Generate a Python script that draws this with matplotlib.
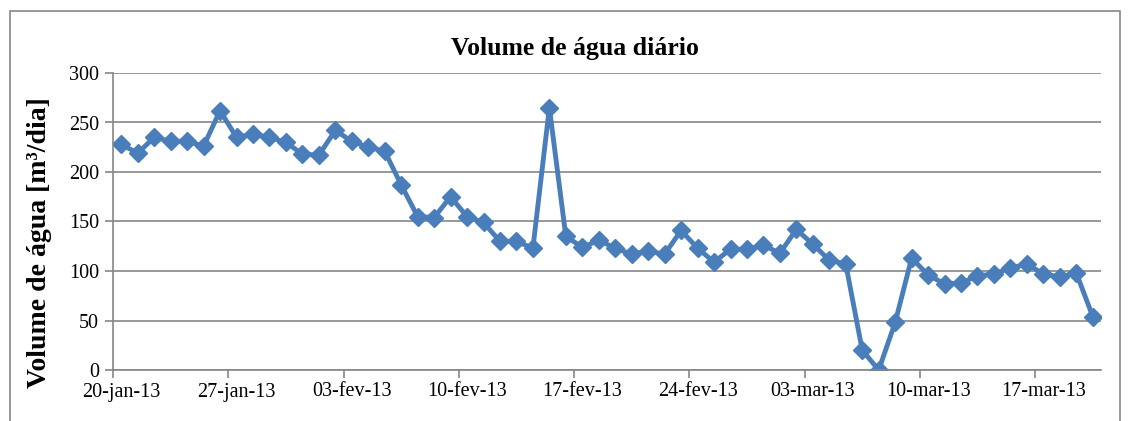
import numpy as np
import matplotlib
matplotlib.use("Agg")
import matplotlib.pyplot as plt
from matplotlib.patches import Rectangle

# daily water volume, 20-jan-13 .. 20-mar-13
volume = [228, 219, 235, 231, 231, 226, 262, 235, 238, 235,
          230, 218, 217, 242, 231, 225, 221, 187, 155, 154,
          175, 155, 149, 130, 130, 123, 265, 135, 124, 131,
          123, 117, 120, 117, 141, 123, 109, 122, 122, 126,
          118, 142, 127, 111, 107, 20, 0, 48, 113, 96,
          87, 88, 95, 97, 103, 107, 97, 94, 98, 54]
tick_labels = ["20-jan-13", "27-jan-13", "03-fev-13", "10-fev-13", "17-fev-13",
               "24-fev-13", "03-mar-13", "10-mar-13", "17-mar-13"]
y_ticks = [0, 50, 100, 150, 200, 250, 300]

days = np.arange(len(volume))

plt.rcParams['font.family'] = ['Liberation Serif', 'DejaVu Serif']

fig = plt.figure(figsize=(11.32, 4.21), dpi=100)
ax = fig.add_axes([113/1132, 1-370/421, (1101-113)/1132, (370-73)/421])

# chart frame
fig.patches.append(Rectangle((10/1132, -0.05), (1120-10)/1132, 1.05-11/421,
                             transform=fig.transFigure, fill=False,
                             edgecolor='#868686', linewidth=1.2))

ax.plot(days, volume, color='#4A7EBB', linewidth=3.5, marker='D',
        markersize=9.5, markerfacecolor='#4A7EBB', markeredgecolor='#4A7EBB')

ax.set_xlim(-0.5, len(volume) - 0.5)
ax.set_ylim(0, 300)
ax.set_yticks(y_ticks)
ax.yaxis.grid(True, color='#868686', linewidth=1.2)
ax.set_axisbelow(True)

ax.set_xticks(np.arange(len(tick_labels)) * 7)
ax.set_xticklabels(tick_labels)
ax.set_xticks(np.arange(len(tick_labels)) * 7 - 0.5, minor=True)
ax.tick_params(axis='x', which='major', length=0, labelsize=14.5, pad=9)
ax.tick_params(axis='x', which='minor', length=6, color='#868686', width=1.2)
ax.tick_params(axis='y', length=6, color='#868686', width=1.2, labelsize=14.5, pad=4)

for s in ['top', 'right']:
    ax.spines[s].set_visible(False)
for s in ['left', 'bottom']:
    ax.spines[s].set_color('#868686')
    ax.spines[s].set_linewidth(1.2)

fig.text(575/1132, 1-49/421, "Volume de água diário", fontsize=18.5,
         fontweight='bold', ha='center', va='center')
fig.text(40/1132, 1-243/421, "Volume de água [m³/dia]", fontsize=20,
         fontweight='bold', ha='center', va='center', rotation=90)

fig.savefig("out.png", dpi=100)
